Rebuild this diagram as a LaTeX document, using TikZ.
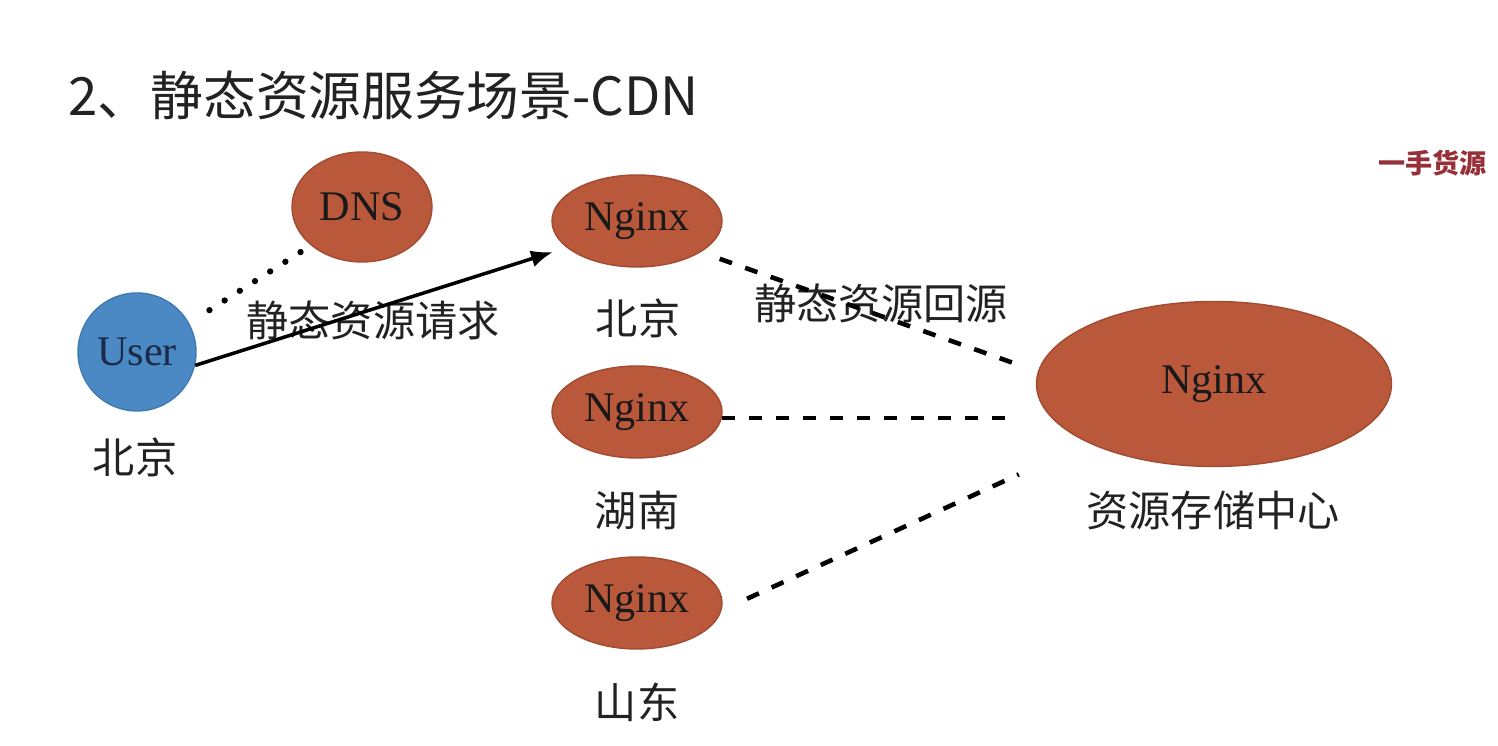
\documentclass[tikz,border=0pt]{standalone}
\usepackage{fontspec}
\setmainfont{Liberation Serif}
\newfontfamily\cjk{Noto Sans CJK SC}
\usetikzlibrary{arrows.meta,shapes.geometric}
\definecolor{rost}{HTML}{B9583B}
\definecolor{rostd}{HTML}{A24B31}
\definecolor{blau}{HTML}{4B89C4}
\definecolor{blaud}{HTML}{3F79B0}
\definecolor{nacht}{HTML}{1B2A48}
\definecolor{grau}{HTML}{222222}
\definecolor{marke}{HTML}{962F37}
\tikzset{
  knoten/.style={ellipse,fill=rost,draw=rostd,line width=0.4pt,inner sep=0pt,text=black!90,font=\fontsize{12}{14}\selectfont},
  ort/.style={grau,font=\cjk\fontsize{12}{14}\selectfont},
  pfeil/.style={-{Latex[length=2.2mm,width=1.7mm]},black,line width=1pt},
  strich/.style={black,line width=1.3pt,dash pattern=on 1.3mm off 1.4mm},
  punkte/.style={black,line width=1.8pt,line cap=round,dash pattern=on 0pt off 1.8mm},
}
\begin{document}
\begin{tikzpicture}
  \useasboundingbox (0,0) rectangle (14.98,7.46);
  \node[anchor=west,inner sep=0pt,grau,font=\cjk\fontsize{15}{18}\selectfont] (titel) at (0.68,6.51) {2、静态资源服务场景-CDN};
  \node[anchor=west,inner sep=0pt,marke,font=\cjk\bfseries\fontsize{7.7}{9}\selectfont] (wm) at (13.78,5.83) {一手货源};
  % Knoten
  \node[circle,fill=blau,draw=blaud,line width=0.4pt,minimum size=1.18cm,inner sep=0pt,text=nacht,font=\fontsize{12}{14}\selectfont] (user) at (1.37,3.94) {User};
  \node[knoten,minimum width=1.40cm,minimum height=1.10cm] (dns) at (3.62,5.39) {DNS};
  \node[knoten,minimum width=1.70cm,minimum height=0.92cm] (ng1) at (6.37,5.25) {Nginx};
  \node[knoten,minimum width=1.70cm,minimum height=0.92cm] (ng2) at (6.37,3.34) {Nginx};
  \node[knoten,minimum width=1.70cm,minimum height=0.92cm] (ng3) at (6.37,1.43) {Nginx};
  \node[knoten,minimum width=3.55cm,minimum height=1.65cm] (big) at (12.14,3.62) {Nginx};
  \coordinate (ziel) at (5.53,4.94);
  % Orte
  \node[ort] (luser) at (1.35,2.89) {北京};
  \node[ort] (lng1) at (6.38,4.28) {北京};
  \node[ort] (lng2) at (6.37,2.35) {湖南};
  \node[ort] (lng3) at (6.37,0.44) {山东};
  \node[ort] (lbig) at (12.13,2.36) {资源存储中心};
  \node[ort] (lreq) at (3.73,4.26) {静态资源请求};
  \node[ort] (lback) at (8.81,4.43) {静态资源回源};
  % Verbindungen
  \draw[punkte,shorten <=0.24cm,shorten >=0.08cm] (user.29) -- (dns.217);
  \draw[pfeil] (user.-13) -- (ziel);
  \draw[strich,shorten <=0.2cm,shorten >=0.2cm] (ng1.-26) -- (big.176);
  \draw[strich,shorten >=0.25cm] (ng2.-4) -- (ng2.-4 -| big.west);
  \draw[strich,shorten <=0.28cm,shorten >=0.76cm] (ng3.-5) -- (big.205);
\end{tikzpicture}
\end{document}
